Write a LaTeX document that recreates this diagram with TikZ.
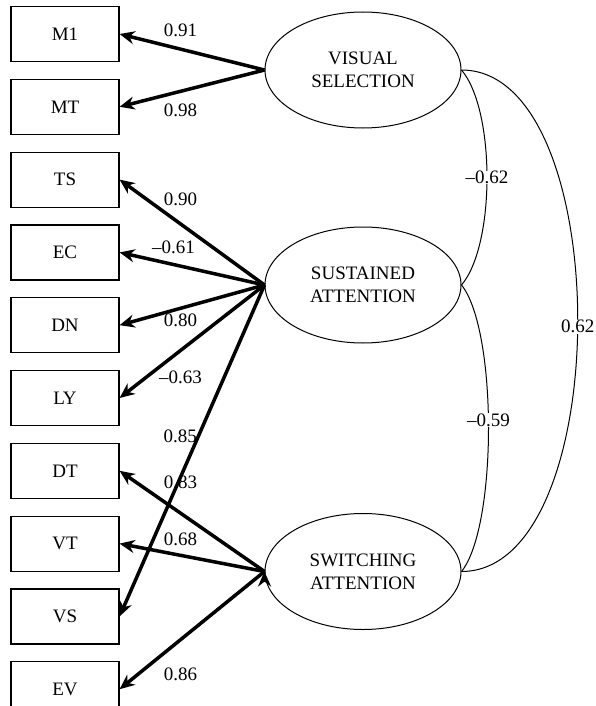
\documentclass[tikz,border=0pt]{standalone}
\usepackage{fontspec}
\setmainfont{Liberation Serif}
\usetikzlibrary{shapes.geometric,arrows.meta,positioning}
\tikzset{>={Stealth[length=15pt,width=13pt]}}
\tikzset{obs node/.style={rectangle,draw,line width=1.2pt,minimum width=108pt,minimum height=55pt,inner sep=0pt},
            lat node/.style={ellipse,draw,line width=1pt,minimum width=196pt,minimum height=116pt,inner sep=0pt,align=center},
            corr label/.style={fill=white,inner sep=0.5pt},
            }

\begin{document}
\begin{tikzpicture}[x=1pt,y=-1pt,font=\fontsize{19}{23}\selectfont]
    \useasboundingbox (0,0) rectangle (596,706);

    \node[obs node] (m1) at (65,34) {M1};
    \node[obs node] (mt) [below = 16.6pt of m1] {MT};
    \node[obs node] (ts) [below = 16.6pt of mt] {TS};
    \node[obs node] (ec) [below = 16.6pt of ts] {EC};
    \node[obs node] (dn) [below = 16.6pt of ec] {DN};
    \node[obs node] (ly) [below = 16.6pt of dn] {LY};
    \node[obs node] (dt) [below = 16.6pt of ly] {DT};
    \node[obs node] (vt) [below = 16.6pt of dt] {VT};
    \node[obs node] (vs) [below = 16.6pt of vt] {VS};
    \node[obs node] (ev) [below = 16.6pt of vs] {EV};

    \node[lat node] (sel) at (363,70) {VISUAL\\SELECTION};
    \node[lat node] (sus) at (363,285) {SUSTAINED\\ATTENTION};
    \node[lat node] (swi) at (363,571.5) {SWITCHING\\ATTENTION};

    \path[draw,line width=3.5pt,->]
    (sel.west) edge node[pos=0.58,yshift=19pt]{0.91} (m1.east)
    (sel.west) edge node[pos=0.58,yshift=-19pt]{0.98} (mt.east)
    (sus.west) edge node[pos=0.58,yshift=25pt]{0.90} (ts.east)
    (sus.west) edge node[pos=0.58,yshift=19pt,xshift=-7pt]{\textendash0.61} (ec.east)
    (sus.west) edge node[pos=0.58,yshift=-12pt]{0.80} (dn.east)
    (sus.west) edge node[pos=0.58,yshift=-27pt]{\textendash0.63} (ly.east)
    (sus.west) edge node[pos=0.457,xshift=-18pt]{0.85} (vs.east)
    (swi.west) edge node[pos=0.58,yshift=31pt]{0.83} (dt.east)
    (swi.west) edge node[pos=0.58,yshift=16pt]{0.68} (vt.east)
    (swi.west) edge node[pos=0.58,yshift=-35pt]{0.86} (ev.east);

    \draw[line width=1pt] (sel.east) .. controls +(34,40) and +(34,-40) .. node[corr label]{\textendash0.62} (sus.east);
    \draw[line width=1pt] (sus.east) .. controls +(36,45) and +(36,-45) .. node[corr label,yshift=8pt]{\textendash0.59} (swi.east);
    \draw[line width=1pt] (sel.east) .. controls +(155,0) and +(155,0) .. node[corr label,yshift=-6pt]{0.62} (swi.east);

\end{tikzpicture}
\end{document}
